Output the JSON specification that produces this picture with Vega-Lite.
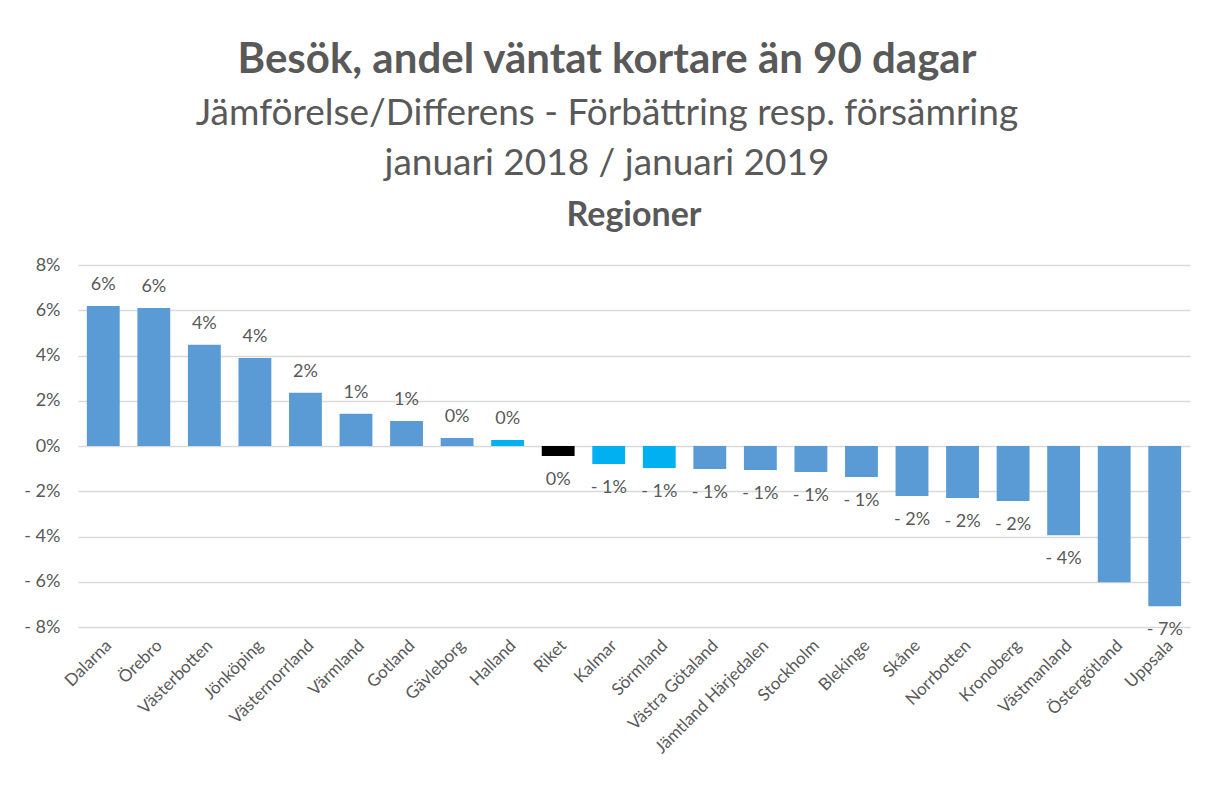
{
  "$schema": "https://vega.github.io/schema/vega-lite/v6.json",
  "background": "white",
  "padding": {"left": 23, "top": 39, "right": 10, "bottom": 0},
  "config": {"font": "Lato", "view": {"stroke": null}},
  "title": {
    "text": "Besök, andel väntat kortare än 90 dagar",
    "subtitle": ["Jämförelse/Differens - Förbättring resp. försämring", "januari 2018 / januari 2019"],
    "font": "Lato", "subtitleFont": "Lato",
    "fontSize": 42, "fontWeight": "bold", "color": "#595959",
    "subtitleFontSize": 37, "subtitleColor": "#595959", "subtitleLineHeight": 50,
    "subtitlePadding": 14, "anchor": "middle", "offset": 16
  },
  "datasets": {
    "regioner": [
      {"region": "Dalarna", "andel": 0.0619, "etikett": "6%", "typ": "Region"},
      {"region": "Örebro", "andel": 0.061, "etikett": "6%", "typ": "Region"},
      {"region": "Västerbotten", "andel": 0.0447, "etikett": "4%", "typ": "Region"},
      {"region": "Jönköping", "andel": 0.0389, "etikett": "4%", "typ": "Region"},
      {"region": "Västernorrland", "andel": 0.0235, "etikett": "2%", "typ": "Region"},
      {"region": "Värmland", "andel": 0.0142, "etikett": "1%", "typ": "Region"},
      {"region": "Gotland", "andel": 0.011, "etikett": "1%", "typ": "Region"},
      {"region": "Gävleborg", "andel": 0.0035, "etikett": "0%", "typ": "Region"},
      {"region": "Halland", "andel": 0.0027, "etikett": "0%", "typ": "Markerad"},
      {"region": "Riket", "andel": -0.0044, "etikett": "0%", "typ": "Riket"},
      {"region": "Kalmar", "andel": -0.008, "etikett": "- 1%", "typ": "Markerad"},
      {"region": "Sörmland", "andel": -0.0097, "etikett": "- 1%", "typ": "Markerad"},
      {"region": "Västra Götaland", "andel": -0.0102, "etikett": "- 1%", "typ": "Region"},
      {"region": "Jämtland Härjedalen", "andel": -0.0106, "etikett": "- 1%", "typ": "Region"},
      {"region": "Stockholm", "andel": -0.0115, "etikett": "- 1%", "typ": "Region"},
      {"region": "Blekinge", "andel": -0.0137, "etikett": "- 1%", "typ": "Region"},
      {"region": "Skåne", "andel": -0.0221, "etikett": "- 2%", "typ": "Region"},
      {"region": "Norrbotten", "andel": -0.023, "etikett": "- 2%", "typ": "Region"},
      {"region": "Kronoberg", "andel": -0.0243, "etikett": "- 2%", "typ": "Region"},
      {"region": "Västmanland", "andel": -0.0394, "etikett": "- 4%", "typ": "Region"},
      {"region": "Östergötland", "andel": -0.0602, "etikett": "", "typ": "Region"},
      {"region": "Uppsala", "andel": -0.0708, "etikett": "- 7%", "typ": "Region"}
    ]
  },
  "vconcat": [
    {
      "title": {"text": "Regioner", "font": "Lato", "fontSize": 34, "fontWeight": "bold", "color": "#595959", "anchor": "middle", "offset": 23},
      "width": 1112,
      "height": 362,
      "data": {"name": "regioner"},
      "encoding": {
        "x": {
          "field": "region", "type": "nominal", "sort": null,
          "scale": {"paddingInner": 0.35, "paddingOuter": 0.175},
          "axis": {"title": null, "labelAngle": -45, "labelFontSize": 17, "labelColor": "#595959", "labelFont": "Lato", "domain": false, "ticks": false, "labelPadding": 10, "labelLimit": 300}
        },
        "y": {
          "field": "andel", "type": "quantitative",
          "scale": {"domain": [-0.08, 0.08], "nice": false},
          "axis": {
            "title": null, "values": [-0.08, -0.06, -0.04, -0.02, 0, 0.02, 0.04, 0.06, 0.08],
            "labelExpr": "datum.value < -0.0001 ? '- ' + format(abs(datum.value), '.0%') : format(datum.value, '.0%')",
            "labelFontSize": 18, "labelColor": "#595959", "labelFont": "Lato", "labelPadding": 18,
            "domain": false, "ticks": false, "gridColor": "#d9d9d9", "gridWidth": 1.5
          }
        }
      },
      "layer": [
        {
          "mark": {"type": "bar"},
          "encoding": {
            "color": {
              "field": "typ", "type": "nominal", "legend": null,
              "scale": {"domain": ["Region", "Markerad", "Riket"], "range": ["#5B9BD5", "#00B0F0", "#000000"]}
            }
          }
        },
        {
          "transform": [{"filter": "datum.andel >= 0"}],
          "mark": {"type": "text", "baseline": "middle", "dy": -21, "fontSize": 18, "color": "#595959", "font": "Lato"},
          "encoding": {"text": {"field": "etikett"}}
        },
        {
          "transform": [{"filter": "datum.andel < 0"}],
          "mark": {"type": "text", "baseline": "middle", "dy": 24, "fontSize": 18, "color": "#595959", "font": "Lato"},
          "encoding": {"text": {"field": "etikett"}}
        }
      ]
    }
  ]
}
